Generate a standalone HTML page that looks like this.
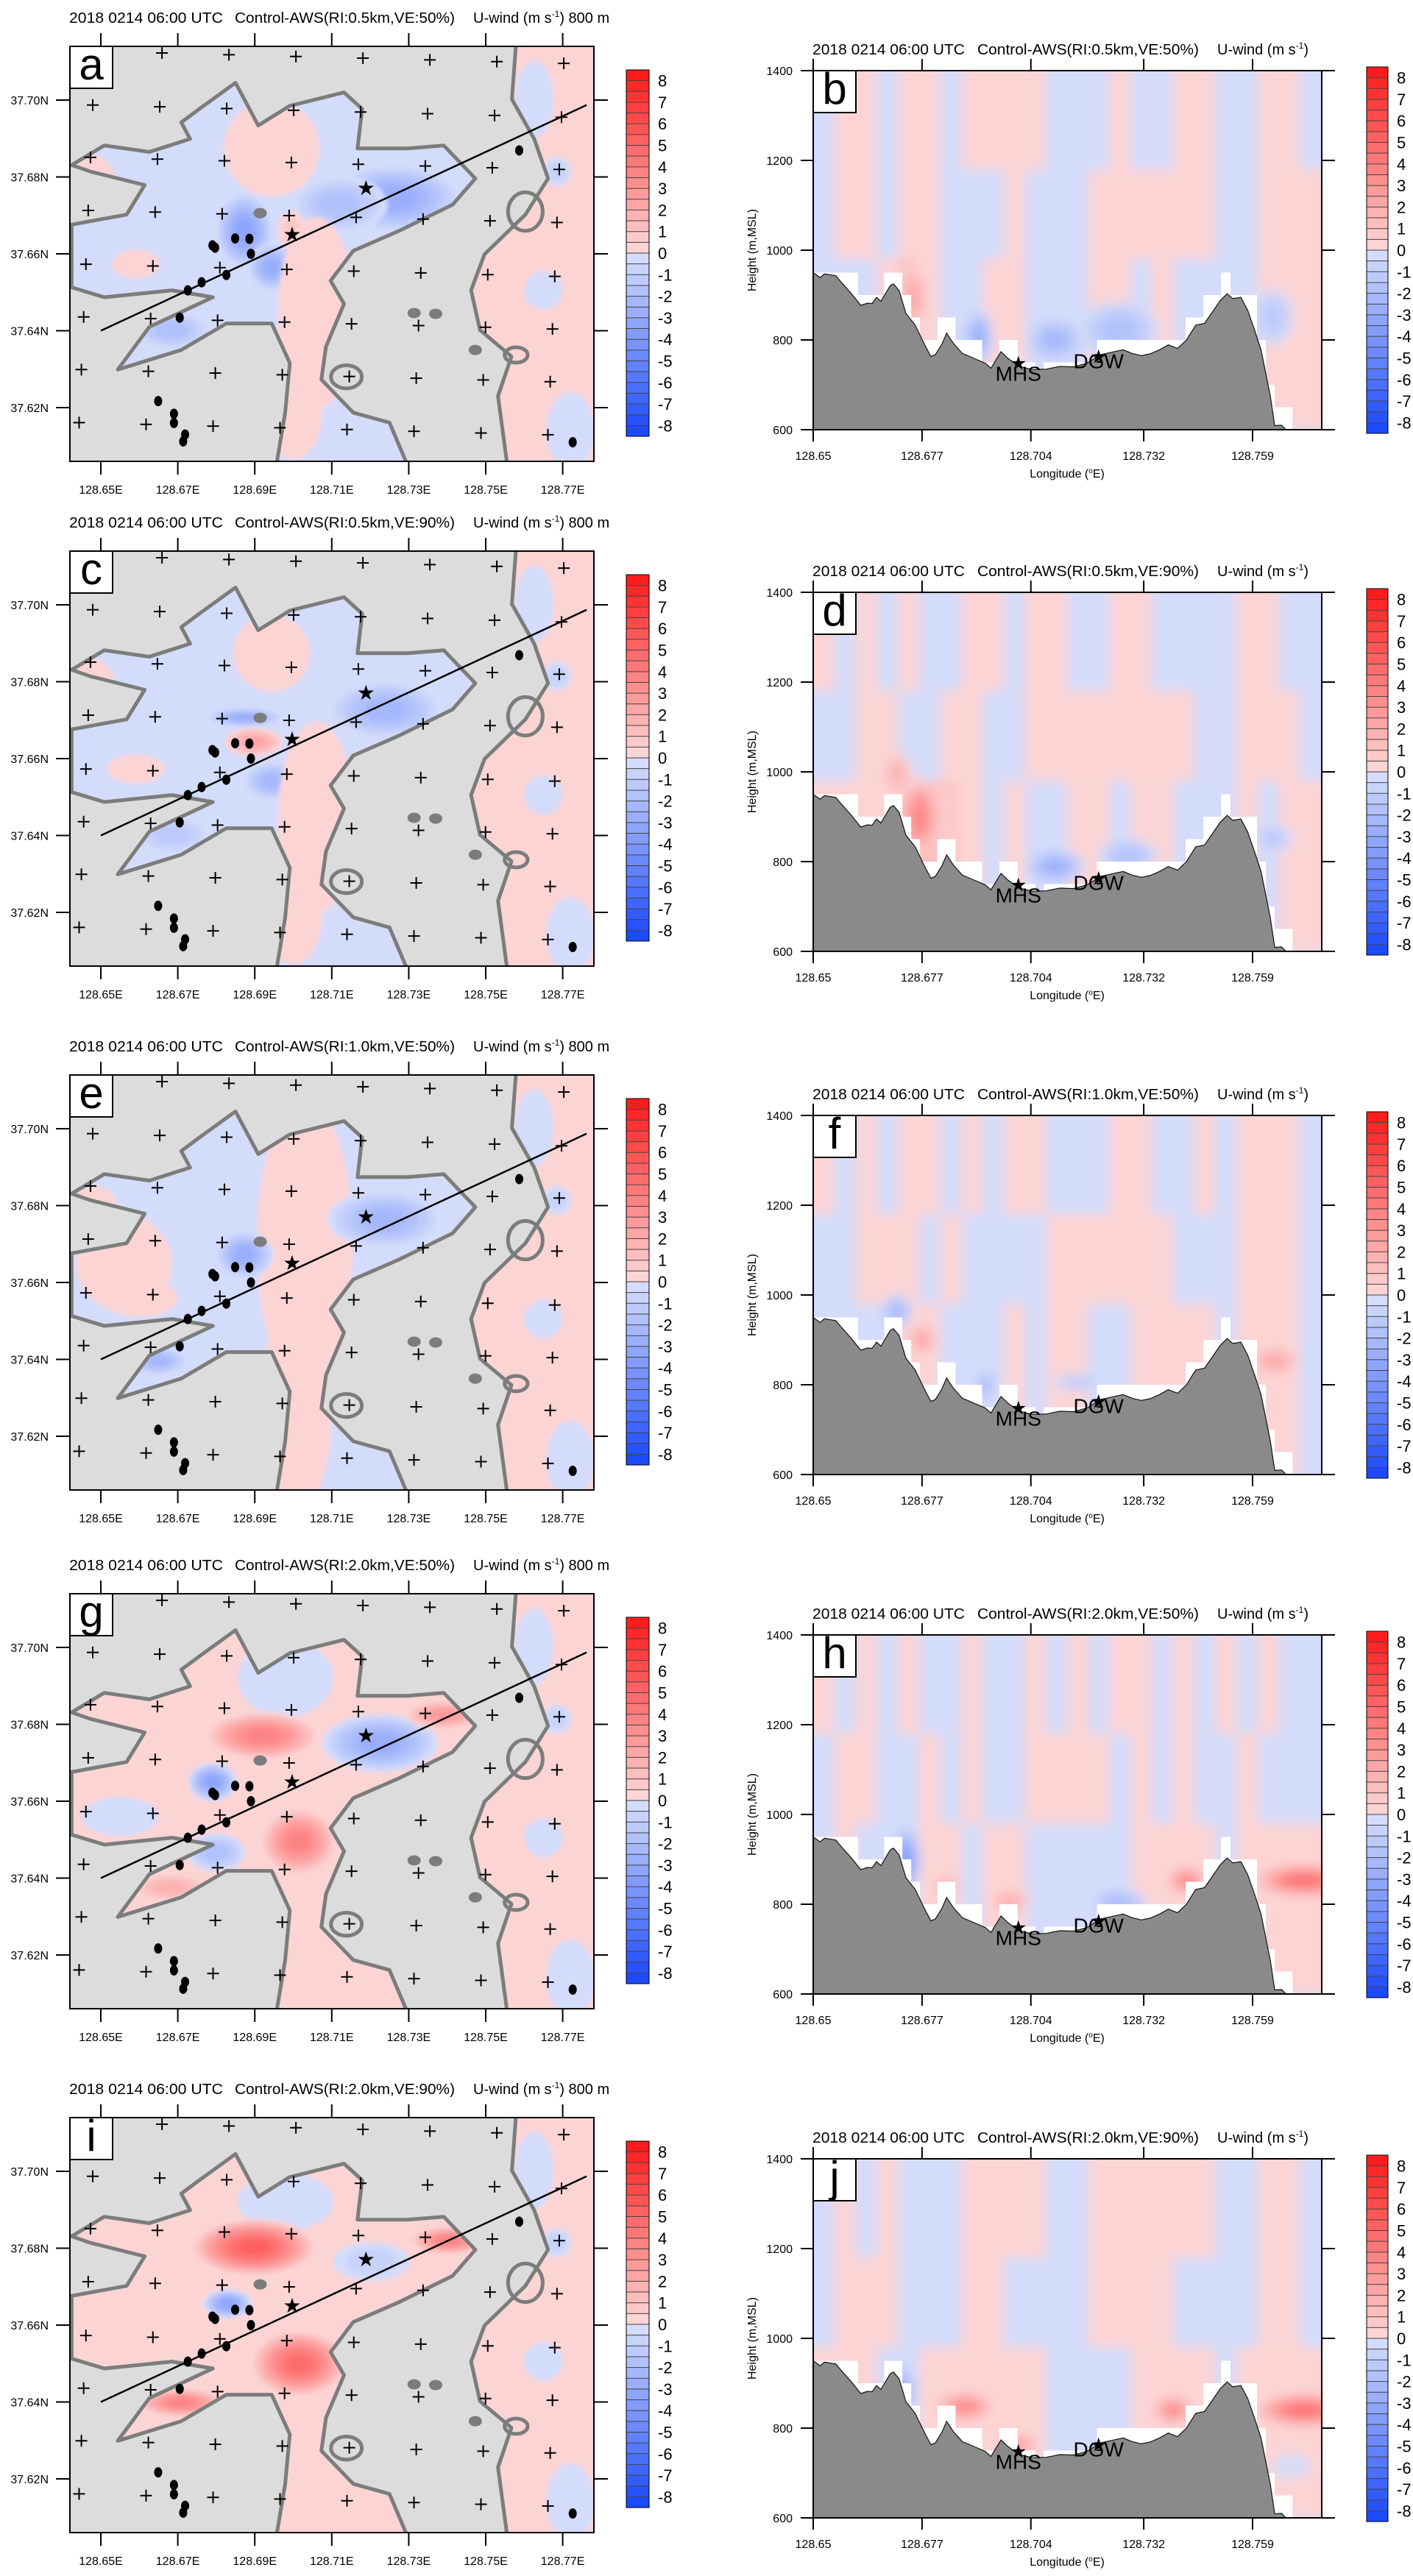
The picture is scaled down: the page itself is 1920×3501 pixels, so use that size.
<!DOCTYPE html>
<html><head><meta charset="utf-8">
<style>
body{margin:0;background:#fff;}
svg text{font-family:"Liberation Sans",Arial,sans-serif;fill:#000;}
</style></head>
<body>
<svg id="fig" xmlns="http://www.w3.org/2000/svg" width="1920" height="3496" viewBox="0 0 1920 3496">
<defs>
<filter id="soft" x="-10%" y="-10%" width="120%" height="120%"><feGaussianBlur stdDeviation="3"/></filter>
<filter id="soft2" x="-10%" y="-10%" width="120%" height="120%"><feGaussianBlur stdDeviation="8"/></filter>
</defs>
</svg>
<script>
// ---------- DATA ----------
const riLabels = ['0.5km','0.5km','1.0km','2.0km','2.0km'];
const veLabels = ['50%','90%','50%','50%','90%'];
const mapLetters = ['a','c','e','g','i'];
const secLetters = ['b','d','f','h','j'];
const lonTicks = [128.65,128.67,128.69,128.71,128.73,128.75,128.77];
const latTicks = [37.70,37.68,37.66,37.64,37.62];
const secLonTicks = [128.65,128.677,128.704,128.732,128.759];
const secHTicks = [600,800,1000,1200,1400];
const cbarLabels = [8,7,6,5,4,3,2,1,0,-1,-2,-3,-4,-5,-6,-7,-8];

const valleyLon = [128.6756,128.6850,128.6909,128.6991,128.7132,128.7179,128.7167,128.7297,128.7391,128.7473,128.7414,128.7273,128.7156,128.7097,128.7132,128.7085,128.7073,128.7156,128.7250,128.7297,128.6956,128.6979,128.6991,128.6944,128.6826,128.6709,128.6544,128.6626,128.6791,128.6685,128.6509,128.6424,128.6424,128.6567,128.6614,128.6473,128.6424,128.6509,128.6626,128.6732,128.6709];
const valleyLat = [37.6977,37.7045,37.6934,37.6985,37.7020,37.6977,37.6874,37.6874,37.6882,37.6796,37.6728,37.6659,37.6608,37.6530,37.6470,37.6359,37.6273,37.6187,37.6161,37.6050,37.6050,37.6187,37.6316,37.6419,37.6419,37.6350,37.6299,37.6410,37.6487,37.6505,37.6487,37.6513,37.6676,37.6702,37.6779,37.6814,37.6831,37.6882,37.6865,37.6899,37.6942];
const stripLon = [128.7579,128.7790,128.7790,128.7556,128.7532,128.7567,128.7485,128.7462,128.7497,128.7603,128.7662,128.7626,128.7568];
const stripLat = [37.7150,37.7150,37.6050,37.6050,37.6230,37.6333,37.6402,37.6505,37.6599,37.6702,37.6796,37.6899,37.7002];
const stripBlobs = [[128.7685,37.6814,-1.0,0.003,0.003],[128.7650,37.6505,-0.5,0.004,0.004],[128.7626,37.7002,-0.5,0.004,0.008],[128.7720,37.6140,-0.5,0.005,0.008]];
const valleyBase = [-0.5,-0.5,-0.5,0.5,0.5];
const stripBase = 0.5;

const blobsA = [[128.6944,37.6874,0.5,0.010,0.010],[128.6873,37.6660,-3.5,0.006,0.008],[128.6944,37.6565,-3.0,0.005,0.005],[128.7262,37.6745,-3.0,0.014,0.007],[128.7120,37.6728,-2.0,0.010,0.006],[128.6997,37.6660,1.0,0.003,0.004],[128.7060,37.6445,0.5,0.008,0.020],[128.6685,37.6402,-2.0,0.008,0.004],[128.6591,37.6573,0.5,0.005,0.003],[128.6473,37.6796,0.5,0.005,0.005],[128.7000,37.6190,0.5,0.006,0.010]];
const blobsC = [[128.6944,37.6874,0.5,0.008,0.008],[128.6897,37.6643,2.5,0.006,0.003],[128.6873,37.6707,-3.0,0.008,0.002],[128.7238,37.6727,-2.5,0.012,0.006],[128.6944,37.6542,-2.5,0.006,0.004],[128.7060,37.6445,0.5,0.008,0.020],[128.7000,37.6190,0.5,0.006,0.010],[128.6685,37.6402,-1.5,0.008,0.004],[128.6591,37.6573,0.5,0.006,0.003],[128.6473,37.6796,0.5,0.005,0.005]];
const blobsE = [[128.7030,37.6700,0.5,0.010,0.030],[128.7000,37.6250,0.5,0.008,0.020],[128.6560,37.6650,0.5,0.010,0.010],[128.6873,37.6672,-3.0,0.006,0.005],[128.7238,37.6764,-2.5,0.012,0.006],[128.6650,37.6396,-2.5,0.006,0.003],[128.6600,37.6560,0.5,0.008,0.004],[128.6480,37.6800,0.5,0.005,0.004]];
const blobsG = [[128.6980,37.6920,-0.5,0.010,0.008],[128.6550,37.6560,-0.5,0.008,0.004],[128.6920,37.6770,4.0,0.012,0.005],[128.6790,37.6650,-3.5,0.005,0.004],[128.7014,37.6495,4.0,0.008,0.007],[128.7226,37.6751,-3.0,0.012,0.006],[128.7390,37.6825,3.0,0.008,0.003],[128.6800,37.6467,-2.0,0.006,0.004],[128.6680,37.6375,2.0,0.008,0.003]];
const blobsI = [[128.6980,37.6920,-0.5,0.010,0.006],[128.6897,37.6802,5.5,0.013,0.006],[128.6830,37.6655,-3.5,0.005,0.003],[128.7014,37.6500,5.0,0.010,0.007],[128.7203,37.6765,-0.8,0.008,0.004],[128.7403,37.6820,4.0,0.008,0.003],[128.6709,37.6398,4.0,0.009,0.003]];

const ringLon = [128.7603,128.7579,128.7138];
const ringLat = [37.6710,37.6337,37.6280];
const ringRLon = [0.0045,0.0030,0.0040];
const ringRLat = [0.0050,0.0020,0.0030];
const spotLon = [128.7473,128.7314,128.7370,128.6914];
const spotLat = [37.6350,37.6446,37.6444,37.6706];

const crossRowLat = [37.7127,37.6987,37.6851,37.6713,37.6573,37.6436,37.6299,37.6161];
const crossColLon = [128.6479,128.6653,128.6827,128.7001,128.7175,128.7349,128.7523,128.7697];
const stationLon = [128.7587,128.6797,128.6790,128.6849,128.6886,128.6890,128.6826,128.6762,128.6726,128.6705,128.6649,128.6690,128.6690,128.6719,128.6714,128.7726];
const stationLat = [37.6869,37.6616,37.6622,37.6640,37.6639,37.6600,37.6545,37.6526,37.6505,37.6434,37.6217,37.6184,37.6160,37.6130,37.6112,37.6110];
const starLon = [128.7189,128.6997];
const starLat = [37.6770,37.6650];
const lineLon = [128.6500,128.7762];
const lineLat = [37.6400,37.6987];

const terrainLon = [128.6500,128.6517,128.6528,128.6556,128.6573,128.6595,128.6618,128.6635,128.6646,128.6657,128.6668,128.6691,128.6699,128.6713,128.6730,128.6753,128.6775,128.6792,128.6803,128.6820,128.6831,128.6848,128.6870,128.6899,128.6927,128.6941,128.6966,128.6983,128.7011,128.7044,128.7078,128.7112,128.7146,128.7179,128.7213,128.7247,128.7269,128.7291,128.7314,128.7336,128.7359,128.7381,128.7404,128.7426,128.7449,128.7471,128.7488,128.7510,128.7527,128.7541,128.7561,128.7578,128.7595,128.7611,128.7634,128.7645,128.7662,128.7673,128.7761];
const terrainH = [950,939,947,943,925,903,877,882,881,895,886,921,925,910,859,833,792,763,767,792,815,792,770,759,748,737,774,759,741,734,735,741,740,748,767,774,778,770,765,769,778,789,781,800,833,837,859,888,903,892,895,866,822,778,675,609,610,600,600];
const siteNames = ['MHS','DGW'];
const siteLon = [128.7009,128.7208];
const siteH = [748,763];

const rowEdgesH = [1400,1180,980,600];
const bTop = [-0.5,0.5,0.5,-0.5,0.5,0.5,-0.5,0.5,0.5,0.5,0.5,-0.5,-0.5,-0.5,0.5,-0.5,-0.5,0.5,0.5,-0.5,-0.5,0.5,0.5,-0.5];
const bMid = [-0.5,0.5,0.5,-0.5,0.5,0.5,-0.5,-0.5,-0.5,0.5,-0.5,-0.5,-0.5,0.5,0.5,0.5,0.5,0.5,0.5,-0.5,-0.5,0.5,0.5,0.5];
const bLow = [-0.5,-0.5,-0.5,0.5,1.5,0.5,-0.5,-0.5,0.5,0.5,-0.5,-0.5,-0.5,0.5,0.5,-0.5,0.5,-0.5,-0.5,-0.5,-0.5,0.5,0.5,0.5];
const dTop = [0.5,-0.5,0.5,-0.5,0.5,-0.5,-0.5,0.5,0.5,-0.5,0.5,0.5,-0.5,-0.5,0.5,0.5,-0.5,-0.5,-0.5,-0.5,0.5,0.5,-0.5,-0.5];
const dMid = [-0.5,-0.5,0.5,0.5,-0.5,-0.5,0.5,0.5,-0.5,-0.5,0.5,0.5,0.5,0.5,0.5,0.5,0.5,0.5,-0.5,-0.5,0.5,0.5,0.5,-0.5];
const dLow = [0.5,0.5,0.5,0.5,1.5,1.5,1.0,0.5,-0.5,0.5,-0.5,-0.5,0.5,0.5,-0.5,0.5,0.5,-0.5,-0.5,-0.5,0.5,-0.5,0.5,0.5];
const fTop = [0.5,-0.5,0.5,-0.5,0.5,0.5,-0.5,0.5,-0.5,0.5,0.5,-0.5,-0.5,-0.5,0.5,0.5,-0.5,-0.5,0.5,-0.5,0.5,0.5,0.5,-0.5];
const fMid = [-0.5,-0.5,0.5,0.5,0.5,-0.5,0.5,-0.5,-0.5,-0.5,-0.5,0.5,0.5,0.5,0.5,0.5,0.5,-0.5,-0.5,-0.5,0.5,0.5,0.5,-0.5];
const fLow = [-0.5,-0.5,-0.5,-0.5,0.5,0.5,-0.5,-0.5,-0.5,0.5,-0.5,0.5,0.5,-0.5,-0.5,0.5,0.5,0.5,0.5,-0.5,0.5,0.5,0.5,-0.5];
const hTop = [0.5,-0.5,0.5,-0.5,0.5,-0.5,-0.5,0.5,-0.5,-0.5,0.5,-0.5,0.5,-0.5,0.5,0.5,-0.5,0.5,-0.5,0.5,-0.5,0.5,-0.5,-0.5];
const hMid = [-0.5,0.5,0.5,-0.5,-0.5,0.5,-0.5,0.5,-0.5,-0.5,0.5,0.5,0.5,0.5,-0.5,0.5,-0.5,0.5,-0.5,-0.5,0.5,-0.5,-0.5,-0.5];
const hLow = [-0.5,0.5,-0.5,-0.5,-0.5,0.5,0.5,-0.5,0.5,0.5,-0.5,-0.5,-0.5,-0.5,-0.5,0.5,0.5,0.5,0.5,-0.5,0.5,0.5,0.5,0.5];
const jTop = [-0.5,0.5,-0.5,0.5,-0.5,-0.5,-0.5,0.5,0.5,0.5,0.5,-0.5,-0.5,0.5,0.5,0.5,0.5,0.5,0.5,-0.5,-0.5,0.5,0.5,-0.5];
const jMid = [-0.5,0.5,0.5,0.5,-0.5,-0.5,-0.5,0.5,0.5,-0.5,-0.5,-0.5,-0.5,0.5,0.5,0.5,0.5,-0.5,-0.5,-0.5,-0.5,0.5,0.5,-0.5];
const jLow = [0.5,0.5,0.5,-0.5,-0.5,0.5,0.5,0.5,0.5,0.5,0.5,-0.5,-0.5,-0.5,-0.5,0.5,0.5,0.5,0.5,-0.5,0.5,0.5,0.5,0.5];
const secBlobsB = [[128.6747,895,2.5,0.003,60],[128.6910,807,-3.0,0.003,50],[128.7100,800,-2.5,0.006,40],[128.7258,822,-2.0,0.008,50],[128.7640,851,-1.5,0.004,50]];
const secBlobsD = [[128.6764,900,4.0,0.004,70],[128.6708,995,2.0,0.003,40],[128.7100,789,-3.0,0.006,30],[128.7280,813,-2.0,0.006,30],[128.7640,852,-1.5,0.004,25]];
const secBlobsF = [[128.6708,964,-2.5,0.003,30],[128.6770,901,2.5,0.003,30],[128.6927,798,-2.5,0.002,30],[128.7157,806,-1.5,0.005,15],[128.7645,853,2.5,0.005,25]];
const secBlobsH = [[128.6730,900,-4.0,0.003,60],[128.6830,837,2.0,0.003,25],[128.6988,806,2.5,0.004,20],[128.7258,806,-2.5,0.006,20],[128.7426,853,4.0,0.004,25],[128.7718,853,5.0,0.010,30]];
const secBlobsJ = [[128.6719,884,-3.0,0.003,50],[128.6876,848,4.0,0.006,25],[128.7011,762,3.0,0.004,20],[128.7393,840,4.0,0.004,25],[128.7718,840,5.0,0.010,30],[128.7685,715,-0.5,0.004,20]];

// ---------- LAYOUT ----------
const NS = 'http://www.w3.org/2000/svg';
const svg = document.getElementById('fig');
const leftTops = [63,749,1461,2166,2878];
const rightTops = [96,805,1516,2222,2934];
const ML = 95, MR = 807, MH = 564;
const SL = 1105, SR = 1796, SH = 488;
function el(tag, attrs, parent){ const e = document.createElementNS(NS, tag); for (const k in attrs) e.setAttribute(k, attrs[k]); (parent||svg).appendChild(e); return e; }
function rgb(r,g,b){ return 'rgb('+Math.round(r)+','+Math.round(g)+','+Math.round(b)+')'; }
function level(v){
  if (v > 0){ const k = Math.min(17, Math.max(1, Math.ceil(v/0.5 - 1e-9))); const t = (k-1)/16; return rgb(252+3*t, 212-184*t, 212-184*t); }
  const k = Math.min(17, Math.max(1, Math.ceil(-v/0.5 - 1e-9))); const t = (k-1)/16; return rgb(211-183*t, 220-146*t, 250+5*t);
}
function mapX(lon){ return 137 + (lon-128.65)*5230; }
function mapY(lat, top){ return top + 73 + (37.70-lat)*5225; }
function secX(lon){ return SL + (lon-128.65)*5477; }
function secY(h, top){ return top + (1400-h)/800*SH; }

function addText(parent, x, y, str, size, anchor, name){
  const t = el('text', {x:x, y:y, 'font-size':size, 'text-anchor':anchor||'start'}, parent);
  t.textContent = str;
  
  
  return t;
}
function drawColorbar(parent, x, top, w){
  const g = el('g', {}, parent);
  
  
  const bh = 498/34;
  for (let i = 0; i < 34; i++){
    const v = i < 17 ? (8.5 - 0.5*i - 0.25) : -(0.5*(i-17) + 0.25);
    const r = el('rect', {x:x, y:top+i*bh, width:w, height:bh+0.3, fill:level(v)}, g);
    
    
    if (i > 0) el('line', {x1:x, x2:x+w, y1:top+i*bh, y2:top+i*bh, stroke:'#444', 'stroke-width':1}, g);
  }
  el('rect', {x:x, y:top, width:w, height:498, fill:'none', stroke:'#000', 'stroke-width':1}, g);
  cbarLabels.forEach((lab, j) => {
    addText(g, x+w+12, top + (2*j+1)*bh + 8, String(lab), 22, 'start', 'colorbar-label');
  });
}
function titleParts(parent, x1, x2, x3, y, i, withHeight, w1, w2){
  const t1 = addText(parent, x1, y, '2018 0214 06:00 UTC', 20, 'start', 'title-time');
  t1.setAttribute('textLength', w1); t1.setAttribute('lengthAdjust', 'spacingAndGlyphs');
  const t2 = addText(parent, x2, y, 'Control-AWS(RI:'+riLabels[i]+',VE:'+veLabels[i]+')', 20, 'start', 'title-experiment');
  t2.setAttribute('textLength', w2); t2.setAttribute('lengthAdjust', 'spacingAndGlyphs');
  const t3 = el('text', {x:x3, y:y, 'font-size':20}, parent);
  
  
  t3.appendChild(document.createTextNode('U-wind (m s'));
  const sup = el('tspan', {'font-size':12, dy:-8}, t3); sup.textContent = '-1';
  const rest = el('tspan', {dy:8}, t3); rest.textContent = withHeight ? ')  800 m' : ')';
}
function blobEllipses(parent, b, cx, cy, rx, ry){
  const n = Math.max(1, Math.ceil(Math.abs(b[2])/0.5 - 1e-9));
  const s = b[2] >= 0 ? 1 : -1;
  for (let k = 1; k <= n; k++){
    const f = 1.25*Math.pow((n-k+1)/n, 0.6);
    const e = el('ellipse', {cx:cx, cy:cy, rx:rx*f, ry:ry*f, fill:level(s*k*0.5)}, parent);
    
    
  }
}
function polyPts(lons, lats, top){ return lons.map((l,i)=> mapX(l).toFixed(1)+','+mapY(lats[i],top).toFixed(1)).join(' '); }

// ---------- MAP PANEL ----------
function drawMap(i, blobs){
  const top = leftTops[i], B = top + MH;
  const g = el('g', {});
  
  
  titleParts(g, 94, 319, 643, top-32, i, true, 209, 299);
  const cp = el('clipPath', {id:'mc'+i}, g);
  el('rect', {x:ML, y:top, width:MR-ML, height:MH}, cp);
  const vc = el('clipPath', {id:'vc'+i}, g);
  el('polygon', {points:polyPts(valleyLon, valleyLat, top)}, vc);
  el('polygon', {points:polyPts(stripLon, stripLat, top)}, vc);
  const inner = el('g', {'clip-path':'url(#mc'+i+')'}, g);
  const bg = el('rect', {x:ML, y:top, width:MR-ML, height:MH, fill:'#dcdcdc'}, inner);
  
  
  const colG = el('g', {'clip-path':'url(#vc'+i+')'}, inner);
  const field = el('g', {filter:'url(#soft)'}, colG);
  el('polygon', {points:polyPts(valleyLon, valleyLat, top), fill:level(valleyBase[i])}, field);
  el('polygon', {points:polyPts(stripLon, stripLat, top), fill:level(stripBase)}, field);
  stripBlobs.concat(blobs).forEach(b => blobEllipses(field, b, mapX(b[0]), mapY(b[1],top), b[3]*5230, b[4]*5225));
  const c1 = el('polygon', {points:polyPts(valleyLon, valleyLat, top), fill:'none', stroke:'#7c7c7c', 'stroke-width':5, 'stroke-linejoin':'round'}, inner);
  
  
  const c2 = el('polygon', {points:polyPts(stripLon, stripLat, top), fill:'none', stroke:'#7c7c7c', 'stroke-width':5, 'stroke-linejoin':'round'}, inner);
  
  
  ringLon.forEach((l,k) => {
    const r = el('ellipse', {cx:mapX(l), cy:mapY(ringLat[k],top), rx:ringRLon[k]*5230, ry:ringRLat[k]*5225, fill:'none', stroke:'#7c7c7c', 'stroke-width':5}, inner);
    
    
  });
  spotLon.forEach((l,k) => {
    const r = el('ellipse', {cx:mapX(l), cy:mapY(spotLat[k],top), rx:9, ry:7, fill:'#7c7c7c'}, inner);
    
    
  });
  crossRowLat.forEach((la, r) => {
    crossColLon.forEach((lo, c) => {
      const x = mapX(lo - 0.00059*(r-1)), y = mapY(la - 0.00045*c, top);
      const p = el('path', {d:'M'+(x-8)+' '+y+'h16M'+x+' '+(y-8)+'v16', stroke:'#000', 'stroke-width':2}, inner);
      
      
    });
  });
  const ln = el('line', {x1:mapX(lineLon[0]), y1:mapY(lineLat[0],top), x2:mapX(lineLon[1]), y2:mapY(lineLat[1],top), stroke:'#000', 'stroke-width':2.5}, inner);
  
  
  stationLon.forEach((l,k) => {
    const d = el('ellipse', {cx:mapX(l), cy:mapY(stationLat[k],top), rx:5.5, ry:7, fill:'#000'}, inner);
    
    
  });
  starLon.forEach((l,k) => {
    addText(inner, mapX(l), mapY(starLat[k],top)+9, '★', 28, 'middle', 'site-star');
  });
  el('rect', {x:ML, y:top, width:MR-ML, height:MH, fill:'none', stroke:'#000', 'stroke-width':2}, g);
  lonTicks.forEach(lo => {
    const x = mapX(lo);
    el('line', {x1:x, x2:x, y1:top-18, y2:top, stroke:'#000', 'stroke-width':2}, g);
    el('line', {x1:x, x2:x, y1:B, y2:B+18, stroke:'#000', 'stroke-width':2}, g);
    addText(g, x, B+44, lo.toFixed(2)+'E', 16, 'middle', 'x-tick-label');
  });
  latTicks.forEach(la => {
    const y = mapY(la, top);
    el('line', {x1:ML-19, x2:ML, y1:y, y2:y, stroke:'#000', 'stroke-width':2}, g);
    el('line', {x1:MR, x2:MR+19, y1:y, y2:y, stroke:'#000', 'stroke-width':2}, g);
    addText(g, 66, y+6, la.toFixed(2)+'N', 16, 'end', 'y-tick-label');
  });
  const lb = el('rect', {x:ML, y:top, width:58, height:57, fill:'#fff', stroke:'#000', 'stroke-width':2}, g);
  
  
  addText(g, ML+29, top+45, mapLetters[i], 60, 'middle', 'panel-letter');
  drawColorbar(g, 851, top+32, 31);
}

// ---------- SECTION PANEL ----------
function drawSection(i, rows, blobs){
  const top = rightTops[i], B = top + SH;
  const g = el('g', {});
  
  
  titleParts(g, 1104, 1328, 1654, top-22, i, false, 207, 301);
  const cp = el('clipPath', {id:'sc'+i}, g);
  el('rect', {x:SL, y:top, width:SR-SL, height:SH}, cp);
  const inner = el('g', {'clip-path':'url(#sc'+i+')'}, g);
  el('rect', {x:SL, y:top, width:SR-SL, height:SH, fill:level(-0.5)}, inner);
  const field = el('g', {filter:'url(#soft2)'}, inner);
  const ncol = rows[0].length, w = (128.776-128.65)/ncol;
  rows.forEach((row, r) => {
    row.forEach((v, c) => {
      const x0 = secX(128.65 + c*w), x1 = secX(128.65 + (c+1)*w);
      const ext = (c === 0) ? 14 : 0, ext2 = (c === ncol-1) ? 14 : 0;
      const y0 = secY(rowEdgesH[r], top) - (r === 0 ? 14 : 0), y1 = secY(rowEdgesH[r+1], top);
      const cell = el('rect', {x:x0-ext, y:y0, width:x1-x0+ext+ext2+0.5, height:y1-y0+0.5, fill:level(v)}, field);
      
      
    });
  });
  blobs.forEach(b => blobEllipses(field, b, secX(b[0]), secY(b[1],top), b[3]*5477, b[4]/800*SH));
  const stepW = 0.0022;
  for (let lo = 128.65; lo < 128.776; lo += stepW){
    let mx = 0;
    for (let k = 0; k < terrainLon.length; k++){
      if (terrainLon[k] >= lo - 0.0004 && terrainLon[k] <= lo + stepW + 0.0004) mx = Math.max(mx, terrainH[k]);
    }
    if (mx <= 600) continue;
    const hTopStep = Math.ceil(mx/50)*50;
    const m = el('rect', {x:secX(lo), y:secY(hTopStep, top), width:stepW*5477+0.6, height:secY(600,top)-secY(hTopStep,top), fill:'#fff'}, inner);
    
    
  }
  let pts = terrainLon.map((l,k) => secX(l).toFixed(1)+','+secY(terrainH[k],top).toFixed(1));
  pts.push(secX(128.776)+','+(B+2)); pts.push(SL+','+(B+2));
  const terr = el('polygon', {points:pts.join(' '), fill:'#8a8a8a', stroke:'#111', 'stroke-width':1.2}, inner);
  
  
  siteLon.forEach((l,k) => {
    addText(inner, secX(l), secY(siteH[k],top)+9, '★', 26, 'middle', 'site-star');
    addText(inner, secX(l), secY(siteH[k],top) + (k===0 ? 24 : 16), siteNames[k], 28, 'middle', 'site-label');
  });
  el('rect', {x:SL, y:top, width:SR-SL, height:SH, fill:'none', stroke:'#000', 'stroke-width':2}, g);
  secLonTicks.forEach(lo => {
    const x = secX(lo);
    el('line', {x1:x, x2:x, y1:top-16, y2:top, stroke:'#000', 'stroke-width':2}, g);
    el('line', {x1:x, x2:x, y1:B, y2:B+16, stroke:'#000', 'stroke-width':2}, g);
    addText(g, x, B+41, String(lo), 16, 'middle', 'x-tick-label');
  });
  secHTicks.forEach(h => {
    const y = secY(h, top);
    el('line', {x1:SL-17, x2:SL, y1:y, y2:y, stroke:'#000', 'stroke-width':2}, g);
    el('line', {x1:SR, x2:SR+18, y1:y, y2:y, stroke:'#000', 'stroke-width':2}, g);
    addText(g, 1077, y+6, String(h), 16, 'end', 'y-tick-label');
  });
  const xt = el('text', {x:1450, y:B+65, 'font-size':16, 'text-anchor':'middle'}, g);
  
  
  xt.appendChild(document.createTextNode('Longitude ('));
  const o = el('tspan', {'font-size':10, dy:-6}, xt); o.textContent = 'o';
  const e2 = el('tspan', {dy:6}, xt); e2.textContent = 'E)';
  const yt = addText(g, 0, 0, 'Height (m,MSL)', 16, 'middle', 'y-axis-title');
  yt.setAttribute('transform', 'translate(1027,'+(top+SH/2)+') rotate(-90)');
  const lb = el('rect', {x:SL, y:top, width:58, height:57, fill:'#fff', stroke:'#000', 'stroke-width':2}, g);
  
  
  addText(g, SL+29, top+45, secLetters[i], 60, 'middle', 'panel-letter');
  drawColorbar(g, 1857, top-5, 29);
}

const mapBlobSets = [blobsA, blobsC, blobsE, blobsG, blobsI];
const secRowSets = [[bTop,bMid,bLow],[dTop,dMid,dLow],[fTop,fMid,fLow],[hTop,hMid,hLow],[jTop,jMid,jLow]];
const secBlobSets = [secBlobsB, secBlobsD, secBlobsF, secBlobsH, secBlobsJ];
for (let i = 0; i < 5; i++){
  drawMap(i, mapBlobSets[i]);
  drawSection(i, secRowSets[i], secBlobSets[i]);
}
</script>
</body></html>
